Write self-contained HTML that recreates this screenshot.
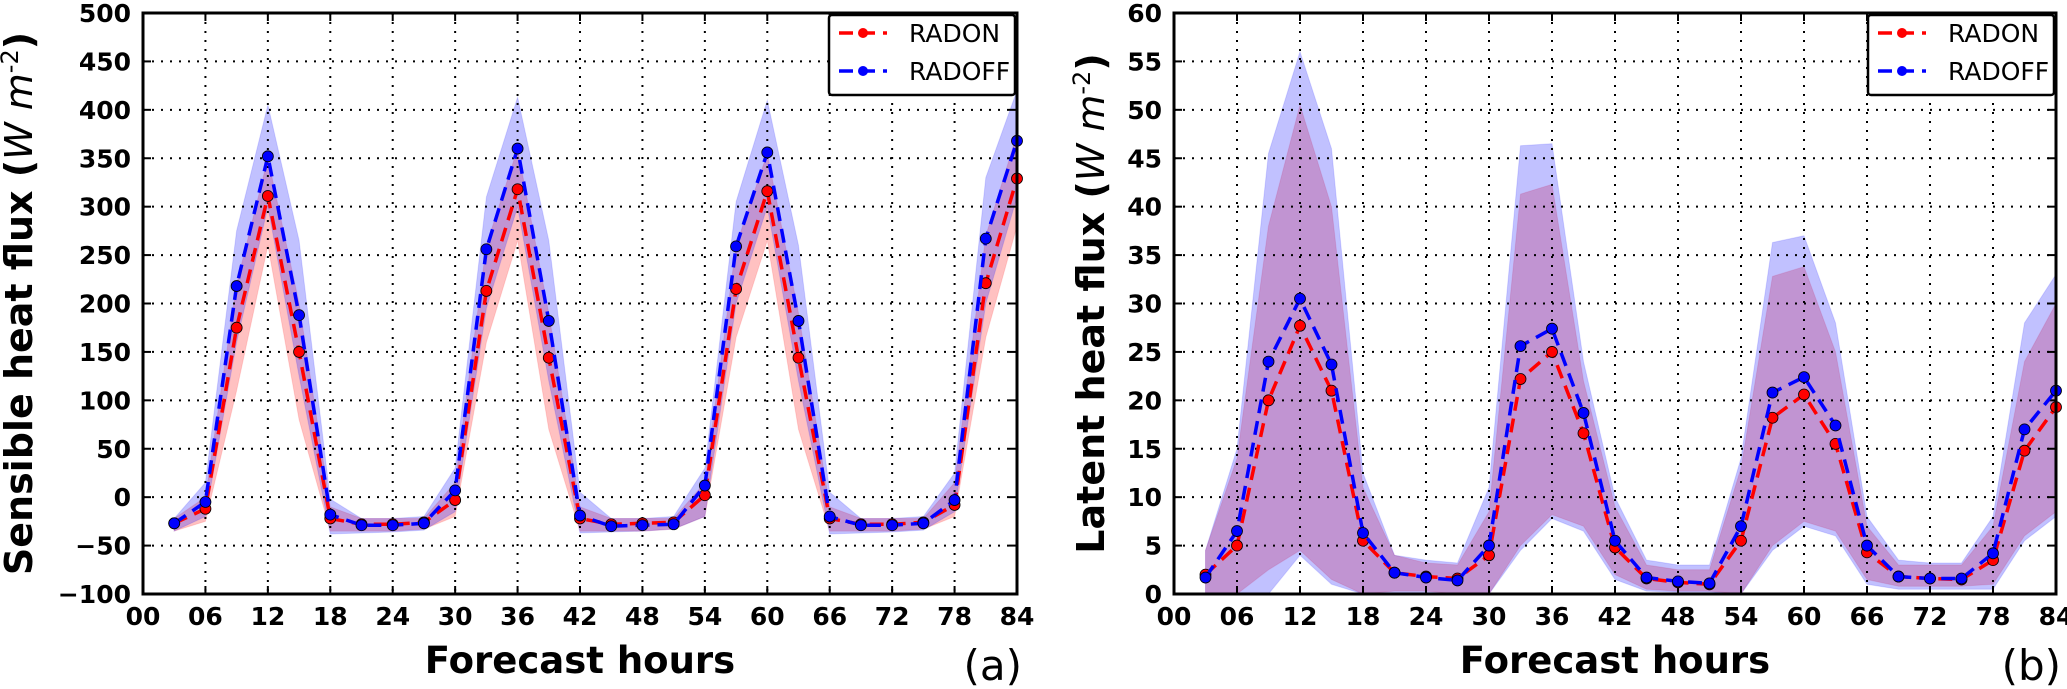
<!DOCTYPE html>
<html><head><meta charset="utf-8">
<style>
html,body{margin:0;padding:0;background:#fff;}
svg{display:block;font-family:"DejaVu Sans","Liberation Sans",sans-serif;}
</style></head>
<body>
<svg id="fig" width="2067" height="689" viewBox="0 0 2067 689" xmlns="http://www.w3.org/2000/svg"></svg>
<script>
const hours = [3,6,9,12,15,18,21,24,27,30,33,36,39,42,45,48,51,54,57,60,63,66,69,72,75,78,81,84];
const xTickLabels = ["00","06","12","18","24","30","36","42","48","54","60","66","72","78","84"];

// Panel (a) sensible heat flux
const shRadon = [-27,-12,175,311,150,-22,-28,-28,-26,-3,213,318,144,-22,-28,-27,-26,2,215,316,144,-22,-28,-28,-26,-8,221,329];
const shRadoff = [-27,-5,218,352,188,-18,-29,-29,-27,7,256,360,182,-19,-30,-29,-28,12,259,356,182,-20,-29,-29,-27,-3,267,368];
const shRadonUp = [-22,0,220,350,200,-10,-22,-22,-22,15,260,360,190,-10,-22,-22,-22,15,260,355,190,-10,-22,-22,-22,15,270,375];
const shRadonLo = [-35,-25,110,260,80,-35,-35,-35,-33,-20,160,265,70,-35,-35,-35,-33,-20,165,265,70,-35,-35,-35,-33,-20,165,280];
const shRadoffUp = [-22,15,275,405,265,-2,-22,-22,-20,30,310,413,265,5,-22,-22,-20,30,305,410,260,5,-22,-22,-20,25,330,420];
const shRadoffLo = [-35,-20,160,300,125,-38,-37,-36,-34,-15,195,300,120,-37,-36,-35,-33,-20,200,300,120,-38,-37,-36,-34,-15,200,310];
const shTicks = [-100,-50,0,50,100,150,200,250,300,350,400,450,500];

// Panel (b) latent heat flux
const lhRadon = [2,5,20,27.7,21,5.5,2.2,1.8,1.6,4,22.2,25,16.6,4.8,1.6,1.2,1.0,5.5,18.2,20.6,15.5,4.3,1.8,1.6,1.5,3.5,14.8,19.3];
const lhRadoff = [1.7,6.5,24,30.5,23.7,6.3,2.2,1.7,1.4,5,25.6,27.4,18.7,5.5,1.7,1.3,1.1,7,20.8,22.4,17.4,5,1.8,1.6,1.6,4.2,17,21];
const lhRadonUp = [4.5,14,38,50.5,40,11,4,3.2,3,8.5,41.3,42.3,22,9,3,2.5,2.5,13,32.8,33.8,25,7,3,3,3,7,24,30];
const lhRadonLo = [0,0,2.5,4.5,1.5,0,0.3,0.3,0,0,5,8.2,7,2,0.5,0.3,0.3,0,5,7.5,6.5,1.5,0.8,0.8,0.8,1,6,8.5];
const lhRadoffUp = [4.5,15,45.5,56,46,12.5,4,3.5,3.2,11,46.3,46.5,24,10,3.5,3,3,14,36.3,37,28,8,3.5,3.2,3.2,8,28,33];
const lhRadoffLo = [0,0,0,4,1,0,0,0,0,0,4.5,7.8,6.5,1.5,0.3,0.2,0.2,0,4.5,7,6,1,0.5,0.5,0.5,0.5,5.5,8];
const lhTicks = [0,5,10,15,20,25,30,35,40,45,50,55,60];

const NS = "http://www.w3.org/2000/svg";
const svg = document.getElementById('fig');
function mk(tag, attrs, parent){
  const e = document.createElementNS(NS, tag);
  for (const k in attrs) e.setAttribute(k, attrs[k]);
  (parent||svg).appendChild(e);
  return e;
}

function panel(p){
  const g = mk('g', {});
  
  
  const L=p.x0, R=p.x1, T=13, B=594;
  const xs = h => L + (h/84)*(R-L);
  const ys = v => B - (v - p.ymin)/(p.ymax - p.ymin)*(B-T);

  function band(up, lo, color, nm){
    let d = 'M';
    hours.forEach((h,i)=>{ d += (i?' L':'') + xs(h).toFixed(1)+','+ys(up[i]).toFixed(1); });
    for (let i=hours.length-1;i>=0;i--) d += ' L'+xs(hours[i]).toFixed(1)+','+ys(lo[i]).toFixed(1);
    d += ' Z';
    const e = mk('path', {d:d, fill:color, 'fill-opacity':'0.28', stroke:color, 'stroke-opacity':'0.15'}, g);
    
    
  }
  band(p.radonUp, p.radonLo, '#ff2020', 'radon-spread-band');
  band(p.radoffUp, p.radoffLo, '#2020ff', 'radoff-spread-band');

  xTickLabels.forEach((t,i)=>{
    const x = xs(i*6);
    if (i>0 && i<14){
      const gl = mk('line', {x1:x,x2:x,y1:T,y2:B,stroke:'#000','stroke-width':2,'stroke-dasharray':'2,7'}, g);
      
      
    }
    mk('line', {x1:x,x2:x,y1:B,y2:B-8,stroke:'#000','stroke-width':2}, g);
    mk('line', {x1:x,x2:x,y1:T,y2:T+8,stroke:'#000','stroke-width':2}, g);
    const tl = mk('text', {x:x,y:B+31,'text-anchor':'middle','font-size':25,'font-weight':'bold'}, g);
    tl.textContent = t;
    
    
  });
  p.ticks.forEach((v,i)=>{
    const y = ys(v);
    if (i>0 && i<p.ticks.length-1){
      const gl = mk('line', {x1:L,x2:R,y1:y,y2:y,stroke:'#000','stroke-width':2,'stroke-dasharray':'2,7'}, g);
      
      
    }
    mk('line', {x1:L,x2:L+8,y1:y,y2:y,stroke:'#000','stroke-width':2}, g);
    mk('line', {x1:R,x2:R-8,y1:y,y2:y,stroke:'#000','stroke-width':2}, g);
    const tl = mk('text', {x:L-12,y:y+9,'text-anchor':'end','font-size':25,'font-weight':'bold'}, g);
    tl.textContent = String(v).replace('-', '\u2212');
    
    
  });

  function series(vals, color, nm){
    let d='';
    hours.forEach((h,i)=>{ d += (i?' L':'M') + xs(h).toFixed(1)+','+ys(vals[i]).toFixed(1); });
    const ln = mk('path', {d:d, fill:'none', stroke:color, 'stroke-width':3.5, 'stroke-dasharray':'14,8'}, g);
    
    
    hours.forEach((h,i)=>{
      const c = mk('circle', {cx:xs(h), cy:ys(vals[i]), r:5.5, fill:color, stroke:'#000','stroke-width':0.8}, g);
      
      
    });
  }
  series(p.radon, '#ff0000', 'radon');
  series(p.radoff, '#0000ff', 'radoff');

  const fr = mk('rect', {x:L,y:T,width:R-L,height:B-T,fill:'none',stroke:'#000','stroke-width':3}, g);
  
  

  const lg = mk('g', {}, g);
  
  
  const lx = R-188, ly = T+2;
  mk('rect', {x:lx,y:ly,width:186,height:80,rx:3,fill:'#fff',stroke:'#000','stroke-width':2.5}, lg);
  [['RADON','#ff0000',33],['RADOFF','#0000ff',71]].forEach(([t,c,yy])=>{
    const le = mk('g', {}, lg);
    
    
    mk('line', {x1:lx+10,x2:lx+58,y1:yy,y2:yy,stroke:c,'stroke-width':3.5,'stroke-dasharray':'14,8'}, le);
    mk('circle', {cx:lx+34,cy:yy,r:5,fill:c}, le);
    const tx = mk('text', {x:lx+80,y:yy+9,'font-size':25}, le);
    tx.textContent = t;
  });

  const yt = mk('text', {x:0,y:0,'font-size':38,'font-weight':'bold','text-anchor':'middle',transform:'translate('+(L-p.ytOff)+','+((T+B)/2)+') rotate(-90)'}, g);
  
  
  yt.innerHTML = p.ytitle + ' (<tspan font-style="italic" font-weight="normal">W m</tspan><tspan font-weight="normal" font-size="24" dy="-14">-2</tspan><tspan dy="14">)</tspan>';

  const xt = mk('text', {x:(L+R)/2, y:673, 'font-size':37, 'font-weight':'bold', 'text-anchor':'middle'}, g);
  xt.textContent = 'Forecast hours';
  
  

  const pl = mk('text', {x:R+5, y:680, 'font-size':42, 'text-anchor':'end'}, g);
  pl.textContent = p.label;
  
  
}

panel({name:'sensible-heat-panel', x0:143, x1:1017, ymin:-100, ymax:500, ticks:shTicks,
  radon:shRadon, radoff:shRadoff, radonUp:shRadonUp, radonLo:shRadonLo, radoffUp:shRadoffUp, radoffLo:shRadoffLo,
  ytitle:'Sensible heat flux', ytOff:111, label:'(a)'});
panel({name:'latent-heat-panel', x0:1174, x1:2056, ymin:0, ymax:60, ticks:lhTicks,
  radon:lhRadon, radoff:lhRadoff, radonUp:lhRadonUp, radonLo:lhRadonLo, radoffUp:lhRadoffUp, radoffLo:lhRadoffLo,
  ytitle:'Latent heat flux', ytOff:70, label:'(b)'});
</script>
</body></html>
